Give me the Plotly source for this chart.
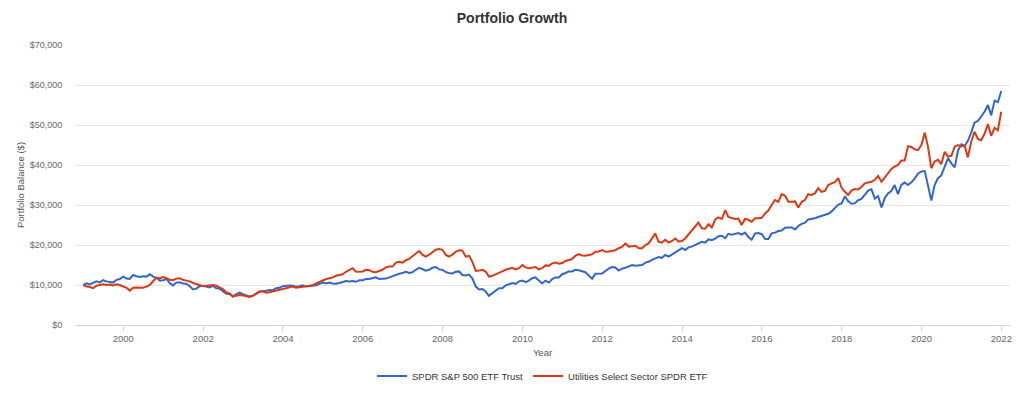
import pandas as pd
import plotly.graph_objects as go

# Month-end dates: Dec 1998 (start) through Dec 2021
dates = pd.date_range("1998-12-31", periods=277, freq="ME")

# SPDR S&P 500 ETF Trust portfolio balance ($), one row per 12 months starting Dec of previous year
spy = [
    10000, 10400, 10150, 10600, 10900, 10650, 11200, 10900, 10800, 10600, 11300, 11500,
    12100, 11600, 11500, 12500, 12200, 12000, 12200, 12100, 12700, 12100, 11800, 11100,
    11200, 11500, 10500, 9900, 10600, 10700, 10400, 10300, 9700, 8900, 9100, 9700,
    9800, 9600, 9400, 9800, 9200, 9100, 8500, 7800, 7900, 7100, 7700, 8100,
    7700, 7400, 7150, 7300, 7900, 8300, 8400, 8600, 8750, 8700, 9200, 9300,
    9700, 9800, 9900, 9800, 9600, 9700, 9900, 9600, 9650, 9750, 9900, 10300,
    10600, 10400, 10600, 10400, 10300, 10500, 10700, 11000, 10900, 11000, 10800, 11200,
    11200, 11500, 11500, 11700, 11900, 11500, 11600, 11600, 11900, 12200, 12600, 12800,
    13000, 13300, 13000, 13200, 13800, 14300, 14000, 13600, 13800, 14300, 14500, 13900,
    13800, 13200, 13000, 12900, 13300, 13400, 12500, 12400, 12600, 11600, 9600, 8900,
    9000, 8300, 7300, 8000, 8700, 9200, 9200, 9900, 10200, 10500, 10300, 10900,
    11100, 10700, 11100, 11700, 11900, 11000, 10400, 11100, 10600, 11500, 11900, 11900,
    12700, 13000, 13400, 13400, 13800, 13700, 13400, 13200, 12400, 11600, 12800, 12800,
    12900, 13500, 14100, 14500, 14400, 13600, 14100, 14300, 14600, 15000, 14800, 14900,
    15000, 15600, 15800, 16300, 16700, 17000, 16800, 17500, 17100, 17600, 18300, 18800,
    19200, 18750, 19400, 19600, 20000, 20400, 20800, 20600, 21400, 21200, 21600, 22200,
    22300, 21700, 22800, 22600, 22800, 23000, 22600, 23100, 22000, 21300, 22900, 23000,
    22700, 21500, 21500, 22900, 23100, 23500, 23600, 24300, 24400, 24400, 23900, 24800,
    25300, 25600, 26400, 26500, 26700, 27000, 27200, 27600, 27800, 28400, 29300, 30100,
    30400, 32200, 31000, 30300, 30400, 31200, 31500, 32600, 33600, 33900, 31600, 32200,
    29400, 31800, 32900, 33500, 35000, 32700, 35000, 35600, 35000, 35700, 36600, 37800,
    38400, 38500, 35300, 31100, 35000, 36700, 37400, 39500, 41700, 40400, 39400, 43600,
    45200, 44800, 46000, 48100, 50600, 51000, 52100, 53300, 55000, 52400, 56100, 55700,
    58500,
]

# Utilities Select Sector SPDR ETF portfolio balance ($)
xlu = [
    10000, 9600, 9500, 9200, 9800, 10000, 10200, 10000, 10100, 9900, 10200, 10000,
    9700, 9300, 8600, 9300, 9400, 9400, 9300, 9600, 10000, 11000, 11800, 11700,
    12000, 11700, 11300, 11200, 11600, 11700, 11300, 11100, 10900, 10500, 10200, 9900,
    9700, 9800, 9900, 10000, 9800, 9400, 9000, 8200, 7700, 7200, 7300, 7500,
    7400, 7200, 7000, 7300, 7900, 8400, 8500, 8100, 8200, 8400, 8500, 8700,
    9000, 9300, 9500, 9600, 9300, 9400, 9500, 9600, 9800, 10000, 10400, 10900,
    11200, 11500, 11700, 11900, 12300, 12500, 12700, 13300, 13700, 14200, 13300, 13300,
    13400, 13800, 13700, 13300, 13200, 13500, 13800, 14400, 14600, 14600, 15600, 15800,
    15600, 16200, 16500, 17200, 17800, 18500, 17600, 17100, 17600, 18300, 18800, 19000,
    18800, 17500, 17100, 17600, 18300, 18700, 18600, 17100, 17300, 15800, 13500, 13600,
    13800, 13300, 12100, 12300, 12700, 13200, 13400, 13800, 14000, 14300, 13900, 14200,
    15000, 14400, 14200, 14300, 14500, 13900, 14200, 14900, 14800, 15400, 15600, 15300,
    15500, 16000, 16300, 16500, 17300, 17700, 17400, 17300, 17500, 17700, 18300, 18400,
    18750, 18300, 18400, 18600, 18700, 19200, 19500, 20400, 19600, 19700, 19800, 19200,
    19200, 20000, 20400, 21600, 22900, 20800, 20600, 21300, 20600, 21000, 21600, 20900,
    21000, 21700, 22600, 23400, 24600, 25600, 24200, 24100, 25200, 24400, 26400, 26900,
    26500, 28700, 27000, 26800, 26500, 26600, 25000, 26500, 26300, 25800, 26700, 26700,
    26800, 27900, 28600, 30000, 31250, 30800, 32700, 32300, 30800, 30800, 30900, 29400,
    30800, 31300, 32700, 32500, 32900, 34200, 33300, 33500, 35000, 35400, 35700, 36700,
    34300, 33300, 32500, 33600, 34000, 33900, 34500, 35400, 35600, 35800, 36300, 37250,
    35800, 37000, 37900, 39000, 39600, 40000, 41100, 41100, 44700, 44500, 43900, 43700,
    45000, 48100, 44600, 39200, 40900, 41300, 40200, 43300, 42100, 42300, 44600, 45000,
    44700, 44800, 41900, 45800, 48300, 46500, 46200, 47800, 50200, 47300, 49300, 48700,
    53300,
]

series_names = ["SPDR S&P 500 ETF Trust", "Utilities Select Sector SPDR ETF"]
colors = ["#3366cc", "#dc3912"]
y_ticks = [0, 10000, 20000, 30000, 40000, 50000, 60000, 70000]
y_tick_labels = ["$" + format(v, ",") for v in y_ticks]

font = "Liberation Sans, Arial, Helvetica, sans-serif"

fig = go.Figure()
for name, vals, col in zip(series_names, [spy, xlu], colors):
    fig.add_trace(go.Scatter(
        x=dates, y=vals, mode="lines", name=name,
        line=dict(color=col, width=2),
        hovertemplate="%{x|%b %Y}: $%{y:,.0f}<extra>" + name + "</extra>",
    ))

fig.update_layout(
    width=1024, height=393,
    paper_bgcolor="white", plot_bgcolor="white",
    margin=dict(l=75, r=14, t=45, b=68, autoexpand=False),
    font=dict(family=font, size=9, color="#666666"),
    title=dict(text="<b>Portfolio Growth</b>", x=0.5, xanchor="center",
               y=0.955, yanchor="middle",
               font=dict(family=font, size=14, color="#333333")),
    showlegend=True,
    legend=dict(orientation="h", x=0.5, xanchor="center",
                yref="container", y=0.043, yanchor="middle",
                font=dict(family=font, size=9.5, color="#333333"),
                itemwidth=30, tracegroupgap=0),
    hovermode="x unified",
)

fig.update_xaxes(
    type="date",
    range=["1998-10-16", "2022-03-21"],
    tick0="2000-01-01", dtick="M24", tickformat="%Y",
    showgrid=False, zeroline=False, automargin=False,
    showline=True, linecolor="#ccd6eb", linewidth=1,
    ticks="outside", ticklen=5, tickcolor="#ccd6eb",
    tickfont=dict(size=9.5, color="#666666"),
    title=dict(text="Year", standoff=5, font=dict(size=9.5, color="#555555")),
)
fig.update_yaxes(
    range=[0, 70000],
    tickmode="array", tickvals=y_ticks, ticktext=y_tick_labels,
    showgrid=True, gridcolor="#e6e6e6", gridwidth=1,
    zeroline=False, showline=False, automargin=False,
    ticks="outside", ticklen=10, tickcolor="rgba(0,0,0,0)",
    tickfont=dict(size=9, color="#666666"),
    title=dict(text="Portfolio Balance ($)", standoff=3, font=dict(size=9.5, color="#555555")),
)

fig.write_html(
    "out.html",
    config={"displayModeBar": False},
    post_script="document.body.style.margin='0';document.body.style.padding='0';",
)
